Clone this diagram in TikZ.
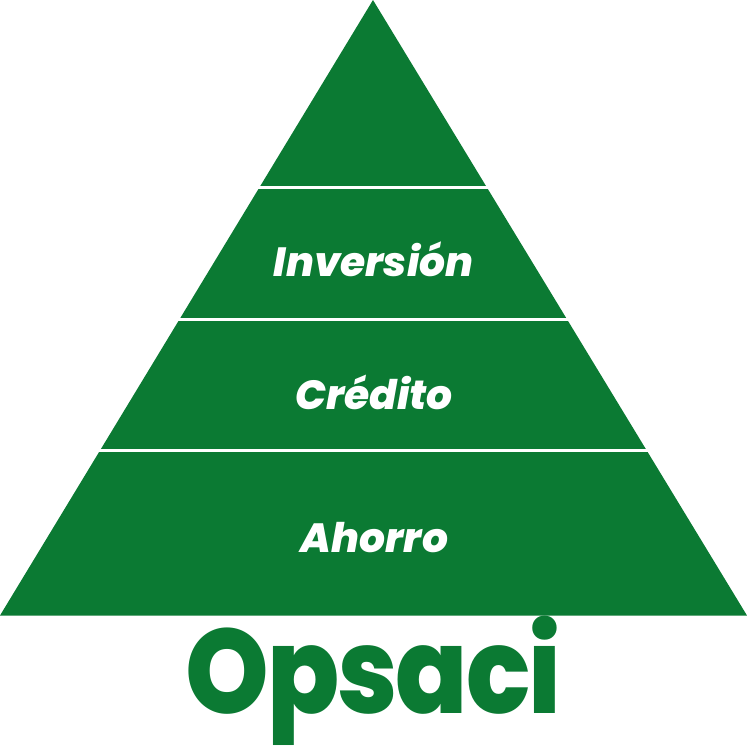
\documentclass[tikz,border=0pt]{standalone}
\usepackage{fontspec}
\setmainfont{Poppins}
\newfontfamily\brandfont[LetterSpace=-2]{Poppins ExtraBold}
\newfontfamily\bandfont{Poppins ExtraBold Italic}
\usetikzlibrary{positioning}
\definecolor{opgreen}{HTML}{0B7A33}

\begin{document}
\begin{tikzpicture}[x=0.01cm, y=-0.01cm,
    % Pyramid text and separators
    bandlabel/.style={font=\bandfont\fontsize{11.6}{13}\selectfont, text=white, inner sep=0pt, anchor=base},
    brand/.style={font=\brandfont\fontsize{34}{40}\selectfont, text=opgreen, inner sep=0pt, anchor=base, xscale=0.89},
    bandrule/.style={draw=white, line width=0.034cm}]

\useasboundingbox (0,0) rectangle (750,750);

% Pyramid body
\fill[opgreen] (373,0) -- (747,615.5) -- (0,615.5) -- cycle;

% Separators between the bands
\coordinate (r1l) at (250,187.5);
\coordinate (r1r) at (500,187.5);
\coordinate (r2l) at (170,319.5);
\coordinate (r2r) at (580,319.5);
\coordinate (r3l) at (90,450.5);
\coordinate (r3r) at (660,450.5);
\draw[bandrule] (r1l) -- (r1r);
\draw[bandrule] (r2l) -- (r2r);
\draw[bandrule] (r3l) -- (r3r);

% Band labels
\node[bandlabel] (inversion) at (373.5,276.5) {Inversión};
\node[bandlabel] (credito) at (374,409) {Crédito};
\node[bandlabel] (ahorro) at (374.5,552) {Ahorro};

% Name under the pyramid
\node[brand] (opsaci) at (373.5,713) {Opsaci};

\end{tikzpicture}
\end{document}
